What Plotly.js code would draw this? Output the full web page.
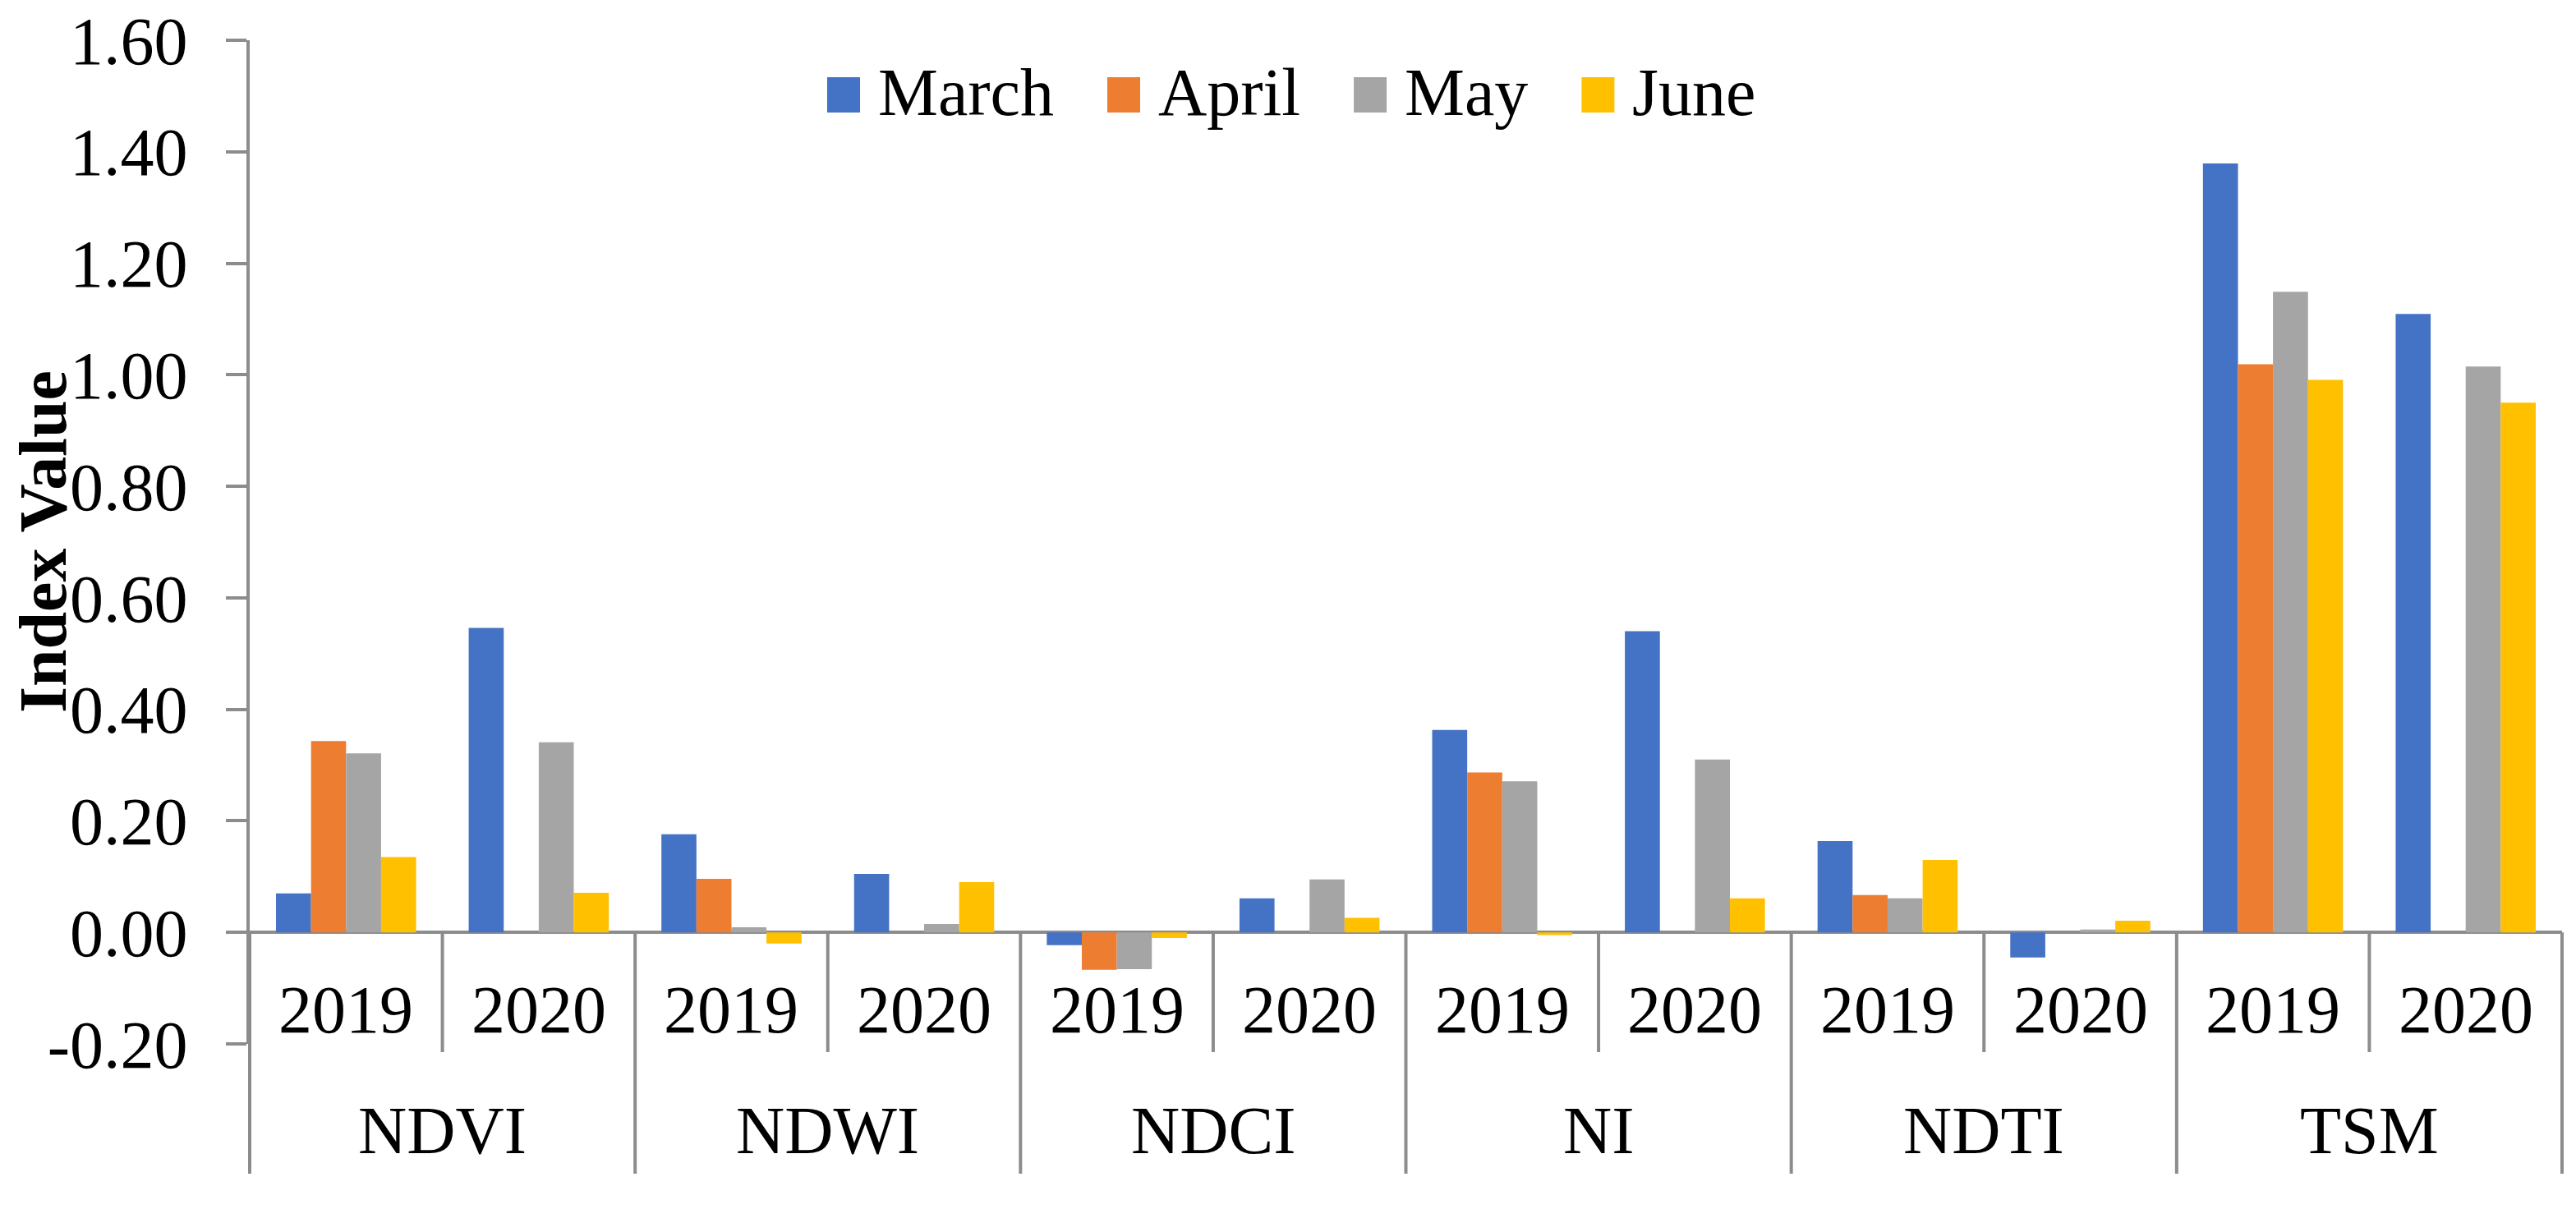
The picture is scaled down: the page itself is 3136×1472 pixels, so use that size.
<!DOCTYPE html>
<html>
<head>
<meta charset="utf-8">
<script src="https://cdn.plot.ly/plotly-3.0.1.min.js"></script>
<style>
  html, body { margin: 0; padding: 0; background: #fff; }
  #chart { width: 3136px; height: 1472px; }
</style>
</head>
<body>
<div id="chart"></div>
<script>
// ---- data ----
const groups = ['NDVI', 'NDWI', 'NDCI', 'NI', 'NDTI', 'TSM'];
const years = ['2019', '2020'];
const months = ['March', 'April', 'May', 'June'];
const monthColors = ['#4472C4', '#ED7D31', '#A5A5A5', '#FFC000'];

// one value per group/year cell, in the order NDVI-2019, NDVI-2020, NDWI-2019 ...
const march = [0.070, 0.546, 0.176, 0.105, -0.023, 0.061, 0.363, 0.540, 0.164, -0.045, 1.379, 1.109];
const april = [0.343, null, 0.096, null, -0.067, null, 0.287, null, 0.067, null, 1.019, null];
const may   = [0.321, 0.341, 0.009, 0.015, -0.066, 0.095, 0.271, 0.310, 0.061, 0.005, 1.149, 1.015];
const june  = [0.135, 0.071, -0.020, 0.090, -0.010, 0.026, -0.005, 0.061, 0.130, 0.021, 0.991, 0.950];

const yTicks = [-0.2, 0, 0.2, 0.4, 0.6, 0.8, 1.0, 1.2, 1.4, 1.6];

// ---- page geometry (px) ----
const W = 3136, H = 1472;
const M = { l: 304, r: 17, t: 49, b: 201 };
const plotH = H - M.t - M.b;
const plotW = W - M.l - M.r;
const plotBottom = H - M.b;
const pyPaper = (px) => (plotBottom - px) / plotH;   // pixel row -> paper y
const pxPaper = (px) => (px - M.l) / plotW;          // pixel col -> paper x

const FONT = 'Liberation Serif, Times New Roman, serif';
const AXIS_GREY = '#8C8C8C';
const FS = 82;

const cells = groups.flatMap(g => years.map(y => g + ' ' + y));
const series = [march, april, may, june];

const traces = months.map((m, i) => ({
    type: 'bar',
    name: m,
    x: cells,
    y: series[i],
    marker: { color: monthColors[i], line: { width: 0 } },
    showlegend: false,
    hoverinfo: 'x+y+name'
}));

const yRange = [yTicks[0], yTicks[yTicks.length - 1]];
const zeroPaper = (0 - yRange[0]) / (yRange[1] - yRange[0]);

// category separators under the zero line
const shapes = [];
const nCells = cells.length;
for (let g = 0; g <= groups.length; g++) {
    shapes.push({
        type: 'line', xref: 'paper', yref: 'paper',
        x0: (g * years.length) / nCells, x1: (g * years.length) / nCells,
        y0: zeroPaper, y1: pyPaper(1429),
        line: { color: AXIS_GREY, width: 4 }
    });
    if (g < groups.length) {
        for (let k = 1; k < years.length; k++) {
            const xb = (g * years.length + k) / nCells;
            shapes.push({
                type: 'line', xref: 'paper', yref: 'paper',
                x0: xb, x1: xb, y0: zeroPaper, y1: pyPaper(1281),
                line: { color: AXIS_GREY, width: 4 }
            });
        }
    }
}

const annotations = [];
// year labels
cells.forEach((c, i) => {
    annotations.push({
        xref: 'x', yref: 'paper', x: c, y: pyPaper(1229),
        text: years[i % years.length], showarrow: false,
        xanchor: 'center', yanchor: 'middle',
        font: { family: FONT, size: FS, color: '#000' }
    });
});
// index labels
groups.forEach((g, i) => {
    annotations.push({
        xref: 'paper', yref: 'paper',
        x: (i * years.length + years.length / 2) / nCells, y: pyPaper(1376),
        text: g, showarrow: false,
        xanchor: 'center', yanchor: 'middle',
        font: { family: FONT, size: FS, color: '#000' }
    });
});
// y title
annotations.push({
    xref: 'paper', yref: 'paper', x: pxPaper(52), y: 0.5,
    text: '<b>Index Value</b>', textangle: -90, showarrow: false,
    xanchor: 'center', yanchor: 'middle',
    font: { family: FONT, size: FS, color: '#000' }
});

// legend drawn by hand so the swatches can be as large as the original
const ctx = document.createElement('canvas').getContext('2d');
ctx.font = FS + 'px "Liberation Serif"';
let lx = 1007;
months.forEach((m, i) => {
    shapes.push({
        type: 'rect', xref: 'paper', yref: 'paper',
        x0: pxPaper(lx), x1: pxPaper(lx + 40),
        y0: pyPaper(137), y1: pyPaper(94),
        fillcolor: monthColors[i], line: { width: 0 }
    });
    const tx = lx + 40 + 21;
    annotations.push({
        xref: 'paper', yref: 'paper', x: pxPaper(tx), y: pyPaper(113),
        text: m, showarrow: false, xanchor: 'left', yanchor: 'middle',
        borderpad: 0,
        font: { family: FONT, size: FS, color: '#000' }
    });
    lx = tx + ctx.measureText(m).width + 66;
});

const layout = {
    width: W, height: H,
    margin: M,
    paper_bgcolor: '#fff', plot_bgcolor: '#fff',
    font: { family: FONT, size: FS, color: '#000' },
    barmode: 'group', bargap: 0.273, bargroupgap: 0,
    xaxis: {
        type: 'category', showticklabels: false, ticks: '',
        showline: false, showgrid: false, zeroline: false
    },
    yaxis: {
        range: yRange,
        tickmode: 'array', tickvals: yTicks,
        ticktext: yTicks.map(v => v.toFixed(2)),   // plain hyphen like the original
        ticks: 'outside', ticklen: 25, tickwidth: 4, tickcolor: AXIS_GREY,
        showline: true, linewidth: 4, linecolor: AXIS_GREY,
        showgrid: false,
        zeroline: true, zerolinecolor: AXIS_GREY, zerolinewidth: 4,
        ticklabelstandoff: 30,
        tickfont: { family: FONT, size: FS, color: '#000' }
    },
    shapes, annotations,
    showlegend: false
};

Plotly.newPlot('chart', traces, layout, { displayModeBar: false, staticPlot: true });
</script>
</body>
</html>
